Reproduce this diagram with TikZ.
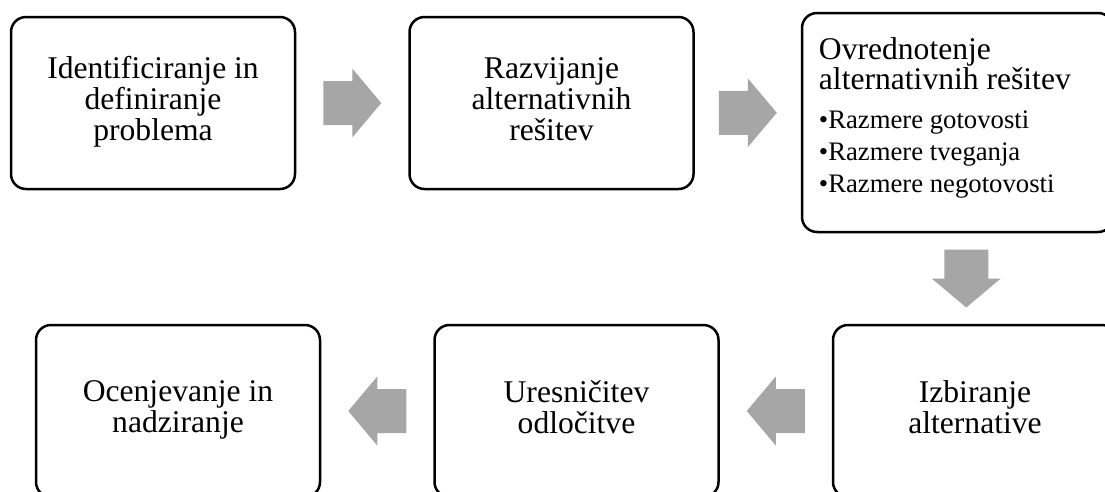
\documentclass[tikz,border=0pt]{standalone}
\usepackage{fontspec}
\setmainfont{Liberation Serif}
\usetikzlibrary{positioning, calc}
\definecolor{arrowgray}{RGB}{166,166,166}
\newcommand{\boxstrut}{\rule[-8.5pt]{0pt}{31.5pt}}

\begin{document}
\begin{tikzpicture}[x=1pt, y=1pt, node distance=112pt,
    stepbox/.style={draw, line width=2.5pt, rounded corners=15pt, minimum width=284pt, minimum height=172pt, align=center, font=\fontsize{31.6}{31}\selectfont, execute at begin node=\boxstrut, execute at end node=\boxstrut},
    fatarrow/.pic={\fill[arrowgray] (-29,-22) -- (0,-22) -- (0,-34.5) -- (29,0) -- (0,34.5) -- (0,22) -- (-29,22) -- cycle;}]
    \useasboundingbox (0,0) rectangle (1105,-491);

    % top row
    \node[stepbox] (ident) at (153,-103) {Identificiranje in\\definiranje\\problema};
    \node[stepbox, right=of ident] (razv) {Razvijanje\\alternativnih\\rešitev};
    \node[stepbox, minimum width=311pt, minimum height=219pt] (ovred) at (957.5,-122.5) {};
    \node[anchor=north west, align=left, inner sep=0pt, font=\fontsize{31.6}{30}\selectfont] (ovredtxt) at ([xshift=18pt, yshift=-25.4pt]ovred.north west)
        {Ovrednotenje\\alternativnih rešitev\\[9pt]
         {\fontsize{26.7}{32}\selectfont•Razmere gotovosti}\\[2pt]
         {\fontsize{26.7}{32}\selectfont•Razmere tveganja}\\[2pt]
         {\fontsize{26.7}{32}\selectfont•Razmere negotovosti}};

    % bottom row
    \node[stepbox] (izbir) at (975,-411) {Izbiranje\\alternative};
    \node[stepbox, left=of izbir] (uresn) {Uresničitev\\odločitve};
    \node[stepbox, left=of uresn] (ocen) {Ocenjevanje in\\nadziranje};

    % block arrows
    \pic (a1) at ($(ident.east)!0.5!(razv.west)$) {fatarrow};
    \pic (a2) at ($(razv.east)!0.5!(ovred.west)$) {fatarrow};
    \pic[rotate=-90] (a3) at ($(ovred.south)!0.5!(izbir.north)$) {fatarrow};
    \pic[rotate=180] (a4) at ($(izbir.west)!0.5!(uresn.east)$) {fatarrow};
    \pic[rotate=180] (a5) at ($(uresn.west)!0.5!(ocen.east)$) {fatarrow};
\end{tikzpicture}
\end{document}
